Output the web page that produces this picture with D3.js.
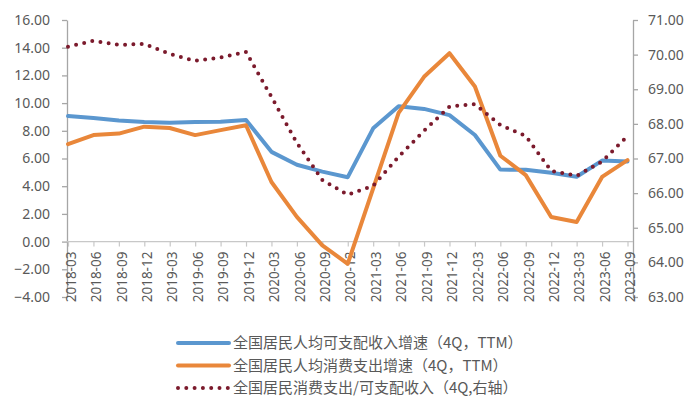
<!DOCTYPE html>
<html>
<head>
<meta charset="utf-8">
<script src="https://cdn.jsdelivr.net/npm/d3@7"></script>
<style>
  html, body { margin: 0; padding: 0; background: #ffffff; }
  svg { display: block; font-family: "Noto Sans CJK SC", "Noto Sans", sans-serif; }
</style>
</head>
<body>
<svg id="chart" width="700" height="420"></svg>
<script>
const categories = ["2018-03","2018-06","2018-09","2018-12","2019-03","2019-06","2019-09","2019-12",
  "2020-03","2020-06","2020-09","2020-12","2021-03","2021-06","2021-09","2021-12",
  "2022-03","2022-06","2022-09","2022-12","2023-03","2023-06","2023-09"];

const incomeGrowth = [9.06, 8.92, 8.75, 8.63, 8.58, 8.63, 8.65, 8.78,
  6.48, 5.55, 5.05, 4.65, 8.18, 9.78, 9.58, 9.13,
  7.70, 5.20, 5.18, 4.97, 4.68, 5.85, 5.78];

const consumptionGrowth = [7.04, 7.69, 7.80, 8.30, 8.20, 7.69, 8.05, 8.40,
  4.30, 1.78, -0.27, -1.60, 3.85, 9.30, 11.90, 13.60,
  11.20, 6.20, 4.80, 1.78, 1.42, 4.67, 5.88];

const ratio = [70.23, 70.40, 70.28, 70.31, 70.02, 69.82, 69.92, 70.08,
  68.78, 67.45, 66.38, 65.95, 66.21, 67.05, 67.80, 68.50,
  68.57, 67.97, 67.65, 66.64, 66.50, 66.91, 67.65];

const leftTicks = [-4, -2, 0, 2, 4, 6, 8, 10, 12, 14, 16];
const rightTicks = [63, 64, 65, 66, 67, 68, 69, 70, 71];

const seriesNames = [
  "全国居民人均可支配收入增速（4Q，TTM）",
  "全国居民人均消费支出增速（4Q，TTM）",
  "全国居民消费支出/可支配收入（4Q,右轴）"
];

const colors = { income: "#5b97cf", consumption: "#e9873a", ratio: "#7b1a2c" };
const textColor = "#595959";
const axisColor = "#a6a6a6";

const svg = d3.select("#chart");
const plotTop = 20, plotBottom = 297, plotLeft = 67, plotRight = 633;

const x = d3.scalePoint().domain(categories).range([plotLeft + 1, 627.5]);
const yL = d3.scaleLinear().domain([-4, 16]).range([plotBottom, plotTop]);
const yR = d3.scaleLinear().domain([63, 71]).range([plotBottom, plotTop]);

// Left axis
const gL = svg.append("g").attr("transform", `translate(${plotLeft},0)`)
  .call(d3.axisLeft(yL).tickValues(leftTicks).tickFormat(d3.format(".2f")).tickSize(5).tickSizeOuter(0).tickPadding(12));
gL.select(".domain").attr("stroke", axisColor).attr("stroke-width", 1.3);
gL.selectAll(".tick line").attr("stroke", axisColor).attr("stroke-width", 1.3);
gL.selectAll(".tick text").attr("fill", textColor).style("font-size", "14px")
  .style("font-family", "'Noto Sans', sans-serif");

// Right axis
const gR = svg.append("g").attr("transform", `translate(${plotRight},0)`)
  .call(d3.axisRight(yR).tickValues(rightTicks).tickFormat(d3.format(".2f")).tickSize(5).tickSizeOuter(0).tickPadding(10));
gR.select(".domain").attr("stroke", axisColor).attr("stroke-width", 1.3);
gR.selectAll(".tick line").attr("stroke", axisColor).attr("stroke-width", 1.3);
gR.selectAll(".tick text").attr("fill", textColor).style("font-size", "14px")
  .style("font-family", "'Noto Sans', sans-serif");

// Category axis at zero
const gX = svg.append("g").attr("transform", `translate(0,${yL(0)})`)
  .call(d3.axisBottom(x).tickSize(5).tickSizeOuter(0));
gX.select(".domain").attr("d", `M${plotLeft},0H${plotRight}`).attr("stroke", "#c8c8c8").attr("stroke-width", 1.3);
gX.selectAll(".tick line").attr("stroke", "#c8c8c8").attr("stroke-width", 1.2);
gX.selectAll(".tick text")
  .attr("fill", textColor)
  .style("font-size", "13.5px")
  .style("font-family", "'Noto Sans', sans-serif")
  .attr("transform", "rotate(-90)")
  .attr("text-anchor", "end")
  .attr("x", -10)
  .attr("y", 2.5)
  .attr("dy", "0.35em");

// Lines
const lineL = d3.line().x((d, i) => x(categories[i])).y(d => yL(d));
const lineR = d3.line().x((d, i) => x(categories[i])).y(d => yR(d));

svg.append("path").datum(incomeGrowth)
  .attr("d", lineL).attr("fill", "none").attr("stroke", colors.income)
  .attr("stroke-width", 4).attr("stroke-linejoin", "round").attr("stroke-linecap", "round");

svg.append("path").datum(consumptionGrowth)
  .attr("d", lineL).attr("fill", "none").attr("stroke", colors.consumption)
  .attr("stroke-width", 4).attr("stroke-linejoin", "round").attr("stroke-linecap", "round");

svg.append("path").datum(ratio)
  .attr("d", lineR).attr("fill", "none").attr("stroke", colors.ratio)
  .attr("stroke-width", 4).attr("stroke-linecap", "round").attr("stroke-dasharray", "0 8.3");

// Legend
const legendY = [343, 365.5, 388];
const legendStyles = [
  { color: colors.income, dash: null },
  { color: colors.consumption, dash: null },
  { color: colors.ratio, dash: "0 8.3" }
];
const lg = svg.append("g");
seriesNames.forEach((name, i) => {
  const s = legendStyles[i];
  const ln = lg.append("line")
    .attr("x1", 178).attr("x2", 229).attr("y1", legendY[i]).attr("y2", legendY[i])
    .attr("stroke", s.color).attr("stroke-width", 4).attr("stroke-linecap", "round");
  if (s.dash) ln.attr("stroke-dasharray", s.dash);
  lg.append("text")
    .attr("x", 233).attr("y", legendY[i]).attr("dy", "0.35em")
    .attr("fill", textColor).style("font-size", "15px")
    .text(name);
});
</script>
</body>
</html>
